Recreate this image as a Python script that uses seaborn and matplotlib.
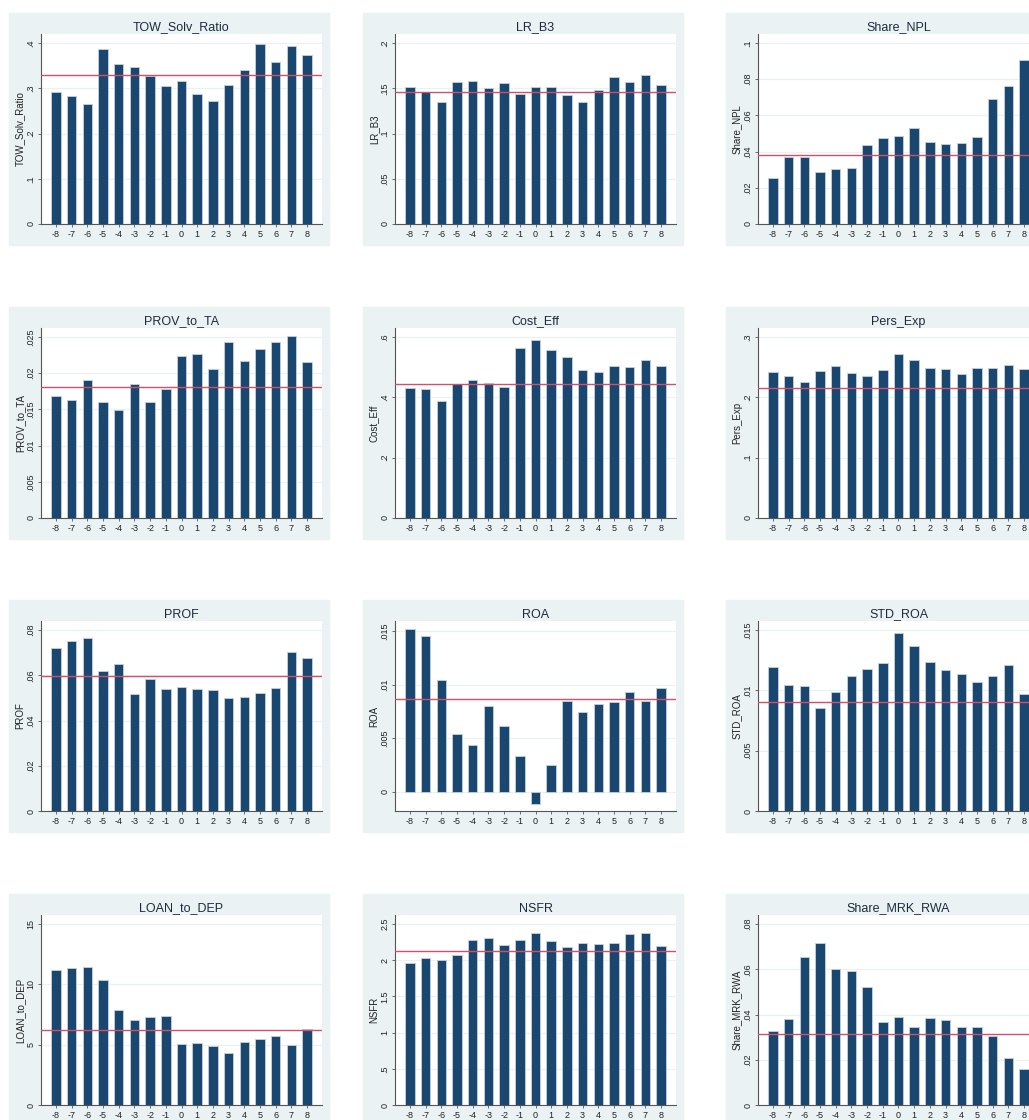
import numpy as np
import pandas as pd
import seaborn as sns
import matplotlib.pyplot as plt
from matplotlib.patches import Rectangle
from matplotlib.ticker import FuncFormatter

# event time
periods = ['-8', '-7', '-6', '-5', '-4', '-3', '-2', '-1', '0',
           '1', '2', '3', '4', '5', '6', '7', '8']

tow_solv_ratio = [0.2915, 0.282, 0.2657, 0.3867, 0.3535, 0.3476, 0.3277, 0.304, 0.3166,
                  0.287, 0.2716, 0.307, 0.3402, 0.3985, 0.3587, 0.394, 0.374]
lr_b3 = [0.1513, 0.1454, 0.1347, 0.1572, 0.1579, 0.1498, 0.1554, 0.1439, 0.1509,
         0.1509, 0.1428, 0.1343, 0.1483, 0.1624, 0.1572, 0.1642, 0.1535]
share_npl = [0.0255, 0.0371, 0.0373, 0.029, 0.0303, 0.0308, 0.0434, 0.0478, 0.0485,
             0.053, 0.0452, 0.0441, 0.0448, 0.048, 0.069, 0.0764, 0.0906]
prov_to_ta = [0.0169, 0.01634, 0.01904, 0.0160, 0.01494, 0.01848, 0.0160, 0.01778, 0.02235,
              0.02263, 0.02053, 0.0243, 0.02174, 0.02328, 0.02435, 0.02514, 0.02155]
cost_eff = [0.4308, 0.4275, 0.3885, 0.443, 0.4575, 0.4475, 0.433, 0.5633, 0.5889,
            0.5577, 0.5343, 0.4909, 0.4842, 0.5032, 0.502, 0.5232, 0.5032]
pers_exp = [0.2421, 0.236, 0.2254, 0.2432, 0.2516, 0.2399, 0.2349, 0.2455, 0.2722,
            0.2627, 0.2488, 0.2466, 0.2382, 0.2482, 0.2482, 0.2544, 0.2471]
prof = [0.0722, 0.075, 0.0766, 0.0619, 0.0648, 0.0517, 0.0585, 0.0539, 0.055,
        0.0539, 0.0536, 0.0498, 0.0502, 0.052, 0.0545, 0.0704, 0.0676]
roa = [0.01519, 0.01459, 0.01041, 0.00544, 0.00437, 0.00805, 0.00616, 0.0033, -0.0011,
       0.00248, 0.00849, 0.00745, 0.00824, 0.0084, 0.00931, 0.00846, 0.00972]
std_roa = [0.0119, 0.01046, 0.01038, 0.00852, 0.00985, 0.01118, 0.01173, 0.01223, 0.01475,
           0.01367, 0.01237, 0.01168, 0.01138, 0.01068, 0.01121, 0.01212, 0.00971]
loan_to_dep = [11.16, 11.36, 11.41, 10.33, 7.88, 7.07, 7.32, 7.35, 5.09,
               5.15, 4.93, 4.29, 5.23, 5.48, 5.68, 4.95, 6.32]
nsfr = [1.968, 2.037, 2.0, 2.079, 2.273, 2.31, 2.204, 2.273, 2.37,
        2.259, 2.181, 2.241, 2.222, 2.245, 2.356, 2.38, 2.199]
share_mrk_rwa = [0.0328, 0.038, 0.0653, 0.0715, 0.0603, 0.0594, 0.0522, 0.0367, 0.039,
                 0.0343, 0.0386, 0.0376, 0.0347, 0.0343, 0.0304, 0.0208, 0.0159]

names = ['TOW_Solv_Ratio', 'LR_B3', 'Share_NPL', 'PROV_to_TA', 'Cost_Eff', 'Pers_Exp',
         'PROF', 'ROA', 'STD_ROA', 'LOAN_to_DEP', 'NSFR', 'Share_MRK_RWA']
series = [tow_solv_ratio, lr_b3, share_npl, prov_to_ta, cost_eff, pers_exp,
          prof, roa, std_roa, loan_to_dep, nsfr, share_mrk_rwa]
# sample mean (horizontal line)
means = [0.329, 0.1454, 0.038, 0.01806, 0.4442, 0.2154,
         0.0595, 0.00871, 0.00902, 6.23, 2.125, 0.0315]
# y axis ticks: step, max
tick_step = [0.1, 0.05, 0.02, 0.005, 0.2, 0.1, 0.02, 0.005, 0.005, 5, 0.5, 0.02]
tick_max = [0.4, 0.2, 0.1, 0.025, 0.6, 0.3, 0.08, 0.015, 0.015, 15, 2.5, 0.08]

sns.set_theme(style='white')
plt.rcParams['font.family'] = ['Liberation Sans', 'DejaVu Sans']

W, H = 1029, 1120
fig = plt.figure(figsize=(W / 100, H / 100), dpi=100)

col_left = [9, 363, 726]
row_top = [13, 307, 600, 894]
panel_w, panel_h = 320, 232
bg = '#eaf2f3'
navy = '#1a476f'
red = '#d24f6c'


def stata_fmt(v, pos):
    v = round(v, 6)
    s = '%g' % v
    if s.startswith('0.'):
        s = s[1:]
    return s


for i, (name, vals) in enumerate(zip(names, series)):
    r, c = divmod(i, 3)
    px, py = col_left[c], row_top[r]
    fig.patches.append(Rectangle((px / W, 1 - (py + panel_h) / H), panel_w / W, panel_h / H,
                                 transform=fig.transFigure, color=bg, zorder=-5))
    ax = fig.add_axes([(px + 32) / W, 1 - (py + 211) / H, 281 / W, 190 / H])
    ax.set_facecolor('white')

    df = pd.DataFrame({'period': periods, 'value': vals})
    sns.barplot(data=df, x='period', y='value', order=periods, color=navy, width=0.6,
                saturation=1, edgecolor='#c5d1dc', linewidth=0.6, ax=ax, zorder=3)
    ax.axhline(means[i], color=red, lw=1.0, zorder=4)

    ticks = np.arange(0, tick_max[i] + tick_step[i] / 2, tick_step[i])
    ax.set_yticks(ticks)
    if min(vals) < 0:
        ax.set_ylim(min(vals) - 0.0007, tick_max[i] * 1.065)
    else:
        ax.set_ylim(0, tick_max[i] * 1.05)
    ax.set_xlim(-0.95, 16.95)
    ax.yaxis.set_major_formatter(FuncFormatter(stata_fmt))
    for t in ticks:
        ax.axhline(t, color='#eaf1f2', lw=0.9, zorder=1)

    for s in ['top', 'right']:
        ax.spines[s].set_visible(False)
    for s in ['left', 'bottom']:
        ax.spines[s].set_color('#555555')
        ax.spines[s].set_linewidth(0.8)
    ax.tick_params(axis='both', which='both', direction='out', length=2.5, width=0.6,
                   color='#555555', labelsize=6.5, labelcolor='#222222', pad=1.5,
                   left=True, bottom=True)
    for lab in ax.get_yticklabels():
        lab.set_rotation(90)
        lab.set_va('center')
    ax.set_xlabel('')
    ax.set_ylabel(name, fontsize=7, color='#222222', labelpad=1)
    ax.set_title(name, fontsize=9, color='#1e2b3c', pad=2.5)

fig.savefig('out.png', dpi=100)
